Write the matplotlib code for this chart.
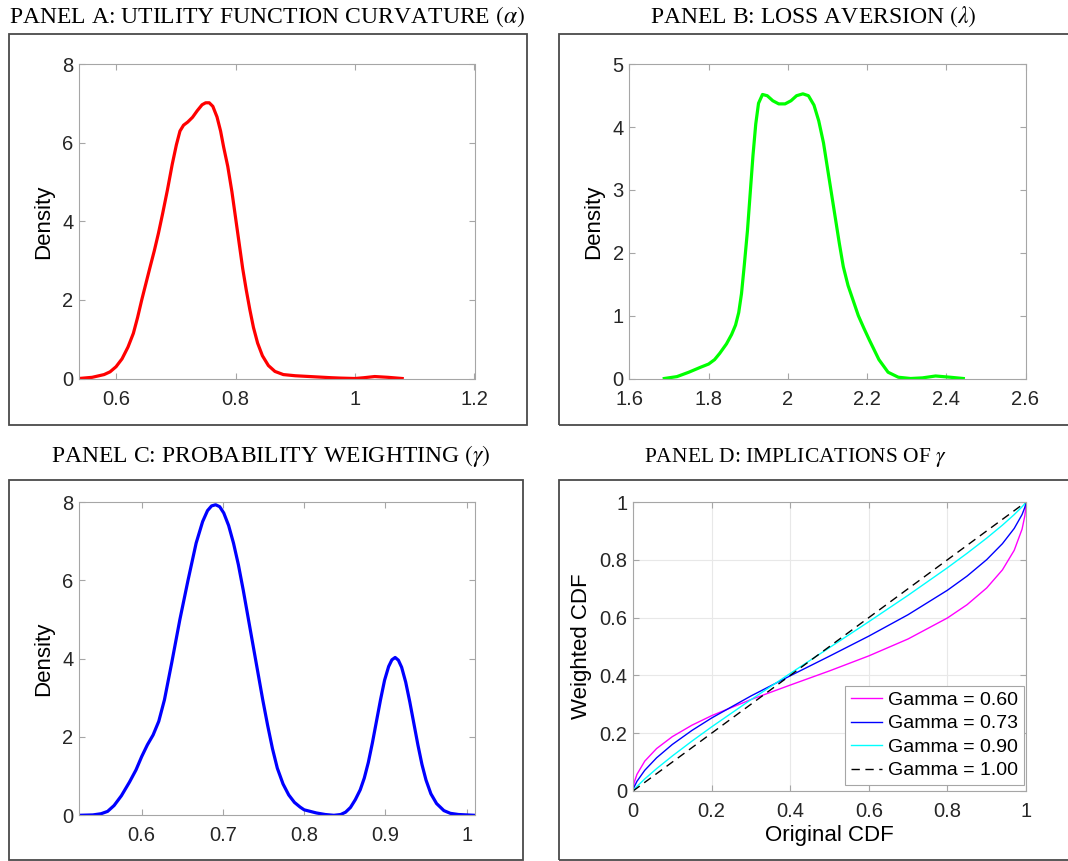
import matplotlib
matplotlib.use("Agg")
import matplotlib.pyplot as plt
from matplotlib.patches import Rectangle
from matplotlib.ticker import FuncFormatter

plt.rcParams['font.family'] = ['Liberation Sans', 'DejaVu Sans']
plt.rcParams['mathtext.fontset'] = 'stix'

# Panel A: alpha density
alpha_x = [0.538, 0.56, 0.58, 0.59, 0.6, 0.61, 0.62, 0.629, 0.636, 0.643, 0.65, 0.657, 0.664, 0.671,
           0.678, 0.686, 0.694, 0.701, 0.707, 0.713, 0.72, 0.728, 0.736, 0.744, 0.75, 0.756, 0.762,
           0.769, 0.775, 0.78, 0.787, 0.794, 0.80, 0.806, 0.812, 0.818, 0.824, 0.83, 0.837, 0.845,
           0.855, 0.866, 0.88, 0.9, 0.936, 0.96, 0.976, 1.0, 1.015, 1.033, 1.055, 1.079]
alpha_y = [0.0, 0.03, 0.1, 0.17, 0.3, 0.5, 0.8, 1.15, 1.55, 2.0, 2.42, 2.84, 3.25, 3.7,
           4.2, 4.8, 5.45, 5.95, 6.3, 6.45, 6.53, 6.65, 6.82, 6.97, 7.02, 7.02, 6.93,
           6.66, 6.3, 5.9, 5.4, 4.75, 4.1, 3.45, 2.8, 2.25, 1.75, 1.3, 0.9, 0.58,
           0.33, 0.18, 0.1, 0.07, 0.04, 0.02, 0.01, 0.0, 0.02, 0.05, 0.03, 0.0]

# Panel B: lambda density
lambda_x = [1.688, 1.72, 1.75, 1.78, 1.80, 1.815, 1.828, 1.845, 1.858, 1.868, 1.876, 1.883, 1.89, 1.898,
            1.905, 1.912, 1.919, 1.926, 1.936, 1.948, 1.962, 1.977, 1.993, 2.008, 2.022, 2.038, 2.052,
            2.066, 2.078, 2.09, 2.1, 2.11, 2.12, 2.13, 2.14, 2.152, 2.165, 2.178, 2.192, 2.206, 2.23,
            2.253, 2.279, 2.31, 2.34, 2.373, 2.41, 2.443]
lambda_y = [0.0, 0.03, 0.1, 0.18, 0.23, 0.3, 0.4, 0.55, 0.7, 0.85, 1.05, 1.35, 1.8, 2.35,
            2.95, 3.55, 4.05, 4.38, 4.52, 4.5, 4.42, 4.37, 4.37, 4.42, 4.5, 4.53, 4.5,
            4.35, 4.1, 3.75, 3.35, 2.95, 2.55, 2.15, 1.78, 1.48, 1.24, 1.0, 0.8, 0.61, 0.3,
            0.1, 0.02, 0.0, 0.01, 0.04, 0.02, 0.0]

# Panel C: gamma density
gamma_x = [0.5228, 0.54, 0.55, 0.558, 0.566, 0.575, 0.585, 0.593, 0.600, 0.607, 0.614, 0.621, 0.628,
           0.637, 0.647, 0.657, 0.667, 0.675, 0.681, 0.686, 0.691, 0.696, 0.701, 0.707, 0.713, 0.719,
           0.725, 0.731, 0.737, 0.743, 0.749, 0.755, 0.761, 0.767, 0.774, 0.781, 0.788, 0.795, 0.80,
           0.815, 0.826, 0.8366, 0.845, 0.851, 0.857, 0.863, 0.869, 0.874, 0.879, 0.884, 0.889, 0.894,
           0.899, 0.904, 0.908, 0.912, 0.916, 0.92, 0.925, 0.93, 0.935, 0.94, 0.945, 0.95, 0.956,
           0.963, 0.972, 0.98, 0.99, 1.0097]
gamma_y = [0.0, 0.01, 0.04, 0.1, 0.25, 0.5, 0.85, 1.16, 1.5, 1.8, 2.05, 2.4, 2.95,
           3.9, 5.0, 6.0, 6.95, 7.5, 7.78, 7.9, 7.93, 7.88, 7.72, 7.4, 6.95, 6.4,
           5.75, 5.05, 4.35, 3.65, 2.95, 2.3, 1.7, 1.2, 0.8, 0.52, 0.33, 0.21, 0.14,
           0.06, 0.02, 0.0, 0.02, 0.08, 0.2, 0.4, 0.65, 0.95, 1.35, 1.85, 2.4, 2.95,
           3.45, 3.8, 3.97, 4.03, 3.96, 3.78, 3.4, 2.9, 2.35, 1.8, 1.3, 0.9, 0.55,
           0.3, 0.12, 0.05, 0.02, 0.0]

# Panel D: weighted CDF for several gammas
cdf = [0, 0.001, 0.003, 0.01, 0.03, 0.06, 0.1, 0.15, 0.2, 0.3, 0.4, 0.5, 0.6, 0.7, 0.8, 0.85,
       0.9, 0.94, 0.97, 0.99, 0.997, 0.999, 1]
w_060 = [0, 0.0155, 0.0292, 0.0575, 0.1035, 0.1468, 0.1880, 0.2277, 0.2606, 0.3164, 0.3665, 0.4156,
         0.4675, 0.5261, 0.5987, 0.6446, 0.7026, 0.7651, 0.8328, 0.9061, 0.952, 0.9745, 1]
w_073 = [0, 0.0064, 0.0142, 0.0334, 0.0718, 0.1148, 0.1610, 0.2096, 0.2525, 0.3287, 0.3986, 0.4666,
         0.5359, 0.6101, 0.6946, 0.7436, 0.8005, 0.8558, 0.9085, 0.9566, 0.9814, 0.9915, 1]
w_090 = [0, 0.0020, 0.0054, 0.0157, 0.0419, 0.0773, 0.1211, 0.1726, 0.2218, 0.3159, 0.4067, 0.4962,
         0.5858, 0.6772, 0.7724, 0.8225, 0.8750, 0.9199, 0.9564, 0.9835, 0.9944, 0.9979, 1]
w_100 = [0, 0.001, 0.003, 0.01, 0.03, 0.06, 0.1, 0.15, 0.2, 0.3, 0.4, 0.5, 0.6, 0.7, 0.8, 0.85,
         0.9, 0.94, 0.97, 0.99, 0.997, 0.999, 1]

W, H = 1068, 861
fig = plt.figure(figsize=(W / 100, H / 100), dpi=100)


def px_axes(left, top, right, bottom):
    return fig.add_axes([left / W, 1 - bottom / H, (right - left) / W, (bottom - top) / H])


def frame(x0, y0, x1, y1):
    fig.add_artist(Rectangle((x0 / W, 1 - y1 / H), (x1 - x0) / W, (y1 - y0) / H,
                             transform=fig.transFigure, fill=False, ec='#4a4a4a', lw=1.3))


def style(ax):
    for s in ax.spines.values():
        s.set_color('#a6a6a6')
        s.set_linewidth(0.8)
    ax.tick_params(direction='in', top=True, right=True, length=4, width=0.8, color='#a6a6a6',
                   labelsize=14.5, labelcolor='#262626')
    ax.tick_params(axis='x', pad=8)
    ax.tick_params(axis='y', pad=4)
    ax.xaxis.set_major_formatter(FuncFormatter(lambda v, p: '%g' % round(v, 3)))
    ax.yaxis.set_major_formatter(FuncFormatter(lambda v, p: '%g' % round(v, 3)))


serif = ['Liberation Serif', 'DejaVu Serif']

# frames and titles
frame(8.5, 34, 527, 424.5)
frame(559, 34, 1080, 424.5)
frame(8.5, 480, 523, 860)
frame(559, 480, 1080, 860)
fig.text(267 / W, 1 - 23 / H, r'PANEL A: UTILITY FUNCTION CURVATURE $(\alpha)$', ha='center',
         va='baseline', family=serif, fontsize=17)
fig.text(813 / W, 1 - 23 / H, r'PANEL B: LOSS AVERSION $(\lambda)$', ha='center',
         va='baseline', family=serif, fontsize=17)
fig.text(271 / W, 1 - 462 / H, r'PANEL C: PROBABILITY WEIGHTING $(\gamma)$', ha='center',
         va='baseline', family=serif, fontsize=17)
fig.text(795 / W, 1 - 462 / H, r'PANEL D: IMPLICATIONS OF $\gamma$', ha='center',
         va='baseline', family=serif, fontsize=15.5)

# Panel A
ax = px_axes(79, 64.3, 474.5, 378.5)
ax.plot(alpha_x, alpha_y, color='#ff0000', lw=2.3)
ax.set_xlim(0.538, 1.2)
ax.set_ylim(0, 8)
ax.set_xticks([0.6, 0.8, 1.0, 1.2])
ax.set_yticks([0, 2, 4, 6, 8])
ax.set_ylabel('Density', fontsize=16, labelpad=6)
style(ax)

# Panel B
ax = px_axes(629.4, 64.3, 1025.5, 378.5)
ax.plot(lambda_x, lambda_y, color='#00ff00', lw=2.3)
ax.set_xlim(1.6, 2.6)
ax.set_ylim(0, 5)
ax.set_xticks([1.6, 1.8, 2.0, 2.2, 2.4, 2.6])
ax.set_yticks([0, 1, 2, 3, 4, 5])
ax.set_ylabel('Density', fontsize=16, labelpad=6)
style(ax)

# Panel C
ax = px_axes(79, 502, 474.5, 815.3)
ax.plot(gamma_x, gamma_y, color='#0000ff', lw=2.3)
ax.set_xlim(0.5228, 1.0097)
ax.set_ylim(0, 8)
ax.set_xticks([0.6, 0.7, 0.8, 0.9, 1.0])
ax.set_yticks([0, 2, 4, 6, 8])
ax.set_ylabel('Density', fontsize=16, labelpad=6)
style(ax)

# Panel D
ax = px_axes(633, 502, 1026, 791)
ax.grid(True, color='#e8e8e8', lw=0.8)
ax.set_axisbelow(True)
ax.plot(cdf, w_060, color='#ff00ff', lw=1.0, label='Gamma = 0.60')
ax.plot(cdf, w_073, color='#0000ff', lw=1.0, label='Gamma = 0.73')
ax.plot(cdf, w_090, color='#00ffff', lw=1.0, label='Gamma = 0.90')
ax.plot(cdf, w_100, color='black', lw=1.0, ls=(0, (6, 4)), label='Gamma = 1.00')
ax.set_xlim(0, 1)
ax.set_ylim(0, 1)
ax.set_xticks([0, 0.2, 0.4, 0.6, 0.8, 1])
ax.set_yticks([0, 0.2, 0.4, 0.6, 0.8, 1])
ax.set_xlabel('Original CDF', fontsize=16, labelpad=3)
ax.set_ylabel('Weighted CDF', fontsize=16, labelpad=5)
style(ax)
leg = ax.legend(loc='lower right', bbox_to_anchor=(0.995, 0.02), borderaxespad=0, fontsize=14,
                handlelength=1.6, handletextpad=0.3, labelspacing=0.3, borderpad=0.3,
                fancybox=False, framealpha=1, edgecolor='#a6a6a6')
leg.get_frame().set_linewidth(0.8)

fig.savefig('out.png', dpi=100)
